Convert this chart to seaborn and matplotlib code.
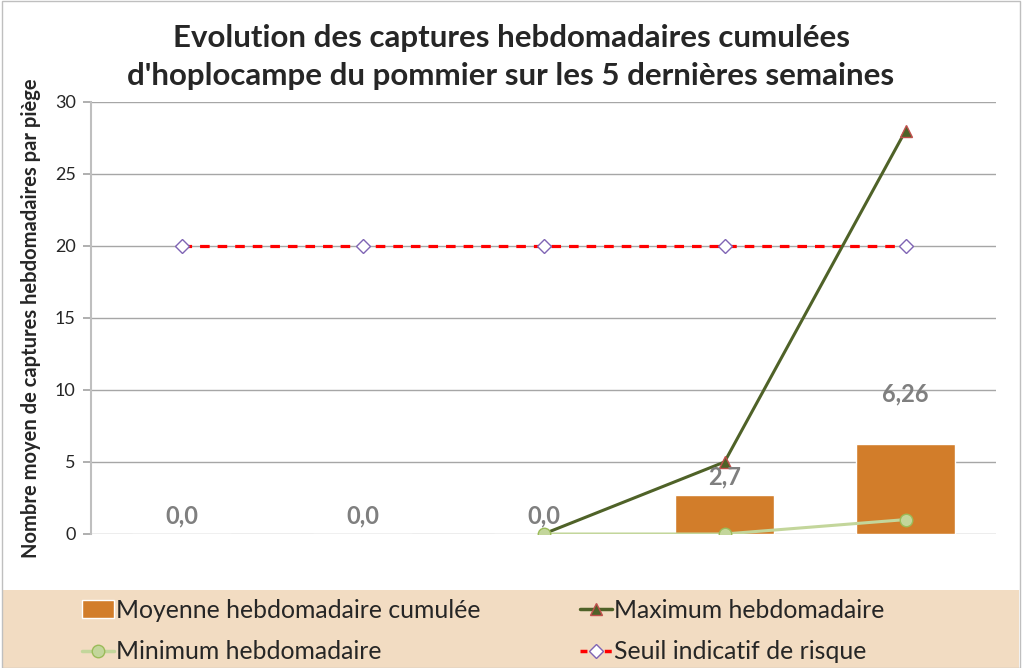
import numpy as np
import pandas as pd
import matplotlib.pyplot as plt
import seaborn as sns
from matplotlib.patches import Rectangle
from matplotlib.lines import Line2D
from matplotlib.patches import Patch

# données
semaines = ["S1", "S2", "S3", "S4", "S5"]
moyenne = [0.0, 0.0, 0.0, 2.7, 6.26]
labels_moy = ["0,0", "0,0", "0,0", "2,7", "6,26"]
maximum = [np.nan, np.nan, 0, 5, 28]
minimum = [np.nan, np.nan, 0, 0, 1]
seuil = [20, 20, 20, 20, 20]

label_offsets = [18, 18, 18, 18, 50]  # px au-dessus de la barre

sns.set_theme(style="white")
plt.rcParams["font.family"] = ["Lato", "DejaVu Sans"]

fig = plt.figure(figsize=(10.22, 6.68), dpi=100)
ax = fig.add_axes([91 / 1022, 1 - 534 / 668, (996 - 91) / 1022, (534 - 102) / 668])

# bande de légende + cadre
fig.patches.append(Rectangle((0.003, 0), 0.994, (668 - 590) / 668, transform=fig.transFigure,
                             facecolor="#F2DCC2", edgecolor="none", zorder=0))
fig.patches.append(Rectangle((0.002, 0.0), 0.996, 0.998, transform=fig.transFigure,
                             facecolor="none", edgecolor="#BFBFBF", lw=1, zorder=1))

x = np.arange(len(semaines))
df = pd.DataFrame({"semaine": x, "moyenne": moyenne})
sns.barplot(data=df, x="semaine", y="moyenne", color="#D27D2A", width=0.55,
            saturation=1, ax=ax, zorder=2, order=list(x))

ax.plot(x, seuil, color="#FF0000", lw=2.3, ls=(0, (3, 2.5)), zorder=3)
ax.plot(x, seuil, ls="none", marker="D", ms=7, mfc="white", mec="#7F64B4", mew=1, zorder=4)
ax.plot(x, maximum, color="#4F6228", lw=2.2, marker="^", ms=9, mfc="#4F6228",
        mec="#C0504D", mew=1, zorder=5)
ax.plot(x, minimum, color="#C3D69B", lw=2.2, marker="o", ms=9, mfc="#C3D69B",
        mec="#9BBB59", mew=1, zorder=6)

for xi, v, lab, off in zip(x, moyenne, labels_moy, label_offsets):
    ax.annotate(lab, (xi, v), xytext=(0, off * 0.72), textcoords="offset points",
                ha="center", va="center", fontsize=17, fontweight="bold", color="#7F7F7F", zorder=7)

ax.set_xlim(-0.5, 4.5)
ax.set_ylim(0, 30)
ax.set_yticks(range(0, 31, 5))
ax.set_xticks([])
ax.set_xlabel("")
ax.yaxis.grid(True, color="#A6A6A6", lw=1)
ax.set_axisbelow(True)
for s in ["top", "right", "bottom"]:
    ax.spines[s].set_visible(False)
ax.spines["left"].set_color("#BFBFBF")
ax.spines["left"].set_linewidth(1.5)
ax.tick_params(axis="y", left=True, length=6, color="#A6A6A6", labelsize=13, pad=5)
ax.set_ylabel("Nombre moyen de captures hebdomadaires par piège", fontsize=14.5,
              fontweight="bold", labelpad=10)

fig.text(0.5, 1 - 57 / 668, "Evolution des captures hebdomadaires cumulées\n"
         "d'hoplocampe du pommier sur les 5 dernières semaines",
         ha="center", va="center", fontsize=22.5, fontweight="bold", linespacing=1.45)

handles = [
    Patch(facecolor="#D27D2A"),
    Line2D([], [], color="#C3D69B", lw=2.5, marker="o", ms=9, mfc="#C3D69B", mec="#9BBB59"),
    Line2D([], [], color="#4F6228", lw=2.5, marker="^", ms=9, mfc="#4F6228", mec="#C0504D"),
    Line2D([], [], color="#FF0000", lw=2.5, ls=(0, (2, 1.5)), marker="D", ms=7, mfc="white", mec="#7F64B4"),
]
names = ["Moyenne hebdomadaire cumulée", "Minimum hebdomadaire",
         "Maximum hebdomadaire", "Seuil indicatif de risque"]
fig.legend(handles, names, ncol=2, loc="center left", bbox_to_anchor=(0.058, (668 - 631) / 668),
           frameon=False, fontsize=17.8, handlelength=1.3, handletextpad=0.1,
           columnspacing=4.0, labelspacing=0.75)

fig.savefig("out.png", dpi=100)
